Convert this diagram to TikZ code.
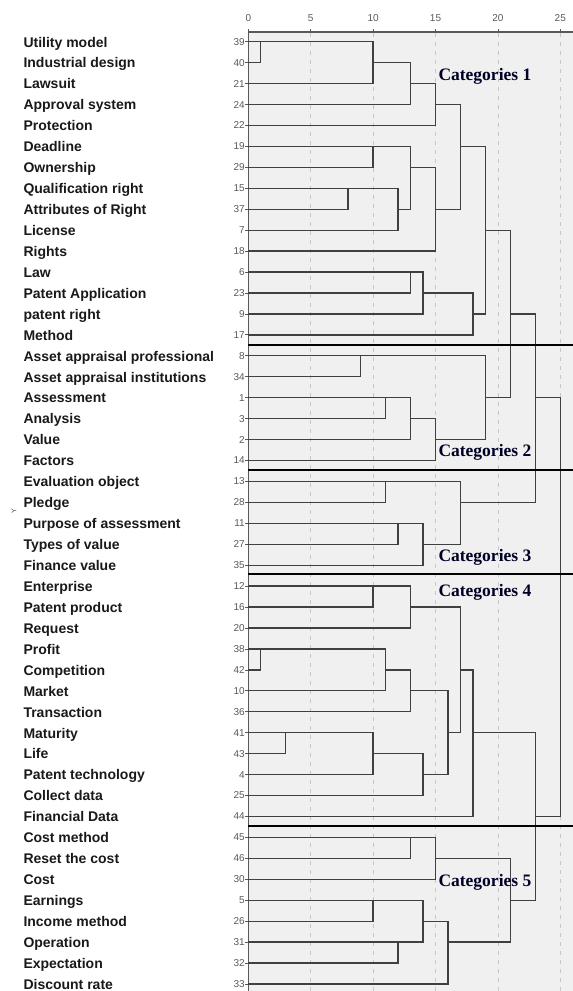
\documentclass[tikz,border=0pt]{standalone}
\usepackage{fontspec}
\setmainfont{Liberation Sans}
\newfontfamily\catfont{Liberation Serif}
\newcommand\mrg[5]{\draw[dline] ({248.3+12.48*#2},{41.7+20.94*#1}) -- ({248.3+12.48*#5},{41.7+20.94*#1}) -- ({248.3+12.48*#5},{41.7+20.94*#3}) -- ({248.3+12.48*#4},{41.7+20.94*#3});}
\begin{document}
\begin{tikzpicture}[x=1pt,y=-1pt,
  dline/.style={draw=black!75, line width=1.3pt, line join=miter},
  gridline/.style={draw=black!22, line width=0.8pt, dash pattern=on 4pt off 5pt},
  sepline/.style={draw=black, line width=1.8pt},
  axisline/.style={draw=black!65, line width=1.4pt},
  lab/.style={anchor=base west, font=\fontsize{14}{15}\selectfont\bfseries, text=black!90, inner sep=0pt},
  num/.style={anchor=east, font=\fontsize{10}{11}\selectfont, text=black!65, inner sep=0pt},
  cat/.style={anchor=base west, font=\catfont\fontsize{17.5}{19}\selectfont\bfseries, text=black!85!blue, inner sep=0pt}]
\useasboundingbox (0,0) rectangle (573,991);
% plot area
\fill[black!6] (248.3,32) rectangle (573,991);
\foreach \v in {5,10,...,25}
  \draw[gridline] ({248.3+12.48*\v},33) -- ({248.3+12.48*\v},991);
% axes
\draw[axisline] (248.3,32) -- (573,32);
\draw[axisline] (248.3,32) -- (248.3,991);
\foreach \v in {0,5,...,25}{
  \draw[black!65, line width=0.8pt] ({248.3+12.48*\v},32) -- ({248.3+12.48*\v},28.5);
  \node[num, anchor=center] (ax\v) at ({248.3+12.48*\v},18) {\v};
}
% row labels
\foreach \t [count=\i from 0] in {Utility model, Industrial design, Lawsuit, Approval system, Protection, Deadline, Ownership, Qualification right, Attributes of Right, License, Rights, Law, Patent Application, patent right, Method, Asset appraisal professional, Asset appraisal institutions, Assessment, Analysis, Value, Factors, Evaluation object, Pledge, Purpose of assessment, Types of value, Finance value, Enterprise, Patent product, Request, Profit, Competition, Market, Transaction, Maturity, Life, Patent technology, Collect data, Financial Data, Cost method, Reset the cost, Cost, Earnings, Income method, Operation, Expectation, Discount rate}
  \node[lab] (lab\i) at (23.3,{47+20.94*\i}) {\t};
\foreach \n [count=\i from 0] in {39,40,21,24,22,19,29,15,37,7,18,6,23,9,17,8,34,1,3,2,14,13,28,11,27,35,12,16,20,38,42,10,36,41,43,4,25,44,45,46,30,5,26,31,32,33}{
  \node[num] (num\i) at (245,{41.7+20.94*\i}) {\n};
  \draw[black!65, line width=0.8pt] (245.3,{41.7+20.94*\i}) -- (248.3,{41.7+20.94*\i});
}
\node[font=\fontsize{7}{8}\selectfont, text=black!70, rotate=90, inner sep=0pt] (ylab) at (14,511) {Y};
% dendrogram
\mrg{0}{0}{1}{0}{1}
\mrg{0}{1}{2}{0}{10}
\mrg{1}{10}{3}{0}{13}
\mrg{2}{13}{4}{0}{15}
\mrg{5}{0}{6}{0}{10}
\mrg{7}{0}{8}{0}{8}
\mrg{7}{8}{9}{0}{12}
\mrg{5}{10}{8}{12}{13}
\mrg{6}{13}{10}{0}{15}
\mrg{3}{15}{8}{15}{17}
\mrg{11}{0}{12}{0}{13}
\mrg{11}{13}{13}{0}{14}
\mrg{12}{14}{14}{0}{18}
\mrg{5}{17}{13}{18}{19}
\mrg{15}{0}{16}{0}{9}
\mrg{17}{0}{18}{0}{11}
\mrg{17}{11}{19}{0}{13}
\mrg{18}{13}{20}{0}{15}
\mrg{15}{9}{19}{15}{19}
\mrg{9}{19}{17}{19}{21}
\mrg{21}{0}{22}{0}{11}
\mrg{23}{0}{24}{0}{12}
\mrg{23}{12}{25}{0}{14}
\mrg{21}{11}{24}{14}{17}
\mrg{13}{21}{22}{17}{23}
\mrg{26}{0}{27}{0}{10}
\mrg{26}{10}{28}{0}{13}
\mrg{29}{0}{30}{0}{1}
\mrg{29}{1}{31}{0}{11}
\mrg{30}{11}{32}{0}{13}
\mrg{33}{0}{34}{0}{3}
\mrg{33}{3}{35}{0}{10}
\mrg{34}{10}{36}{0}{14}
\mrg{31}{13}{35}{14}{16}
\mrg{27}{13}{33}{16}{17}
\mrg{30}{17}{37}{0}{18}
\mrg{38}{0}{39}{0}{13}
\mrg{38}{13}{40}{0}{15}
\mrg{41}{0}{42}{0}{10}
\mrg{43}{0}{44}{0}{12}
\mrg{41}{10}{43}{12}{14}
\mrg{42}{14}{45}{0}{16}
\mrg{39}{15}{43}{16}{21}
\mrg{33}{18}{41}{21}{23}
\mrg{17}{23}{37}{23}{25}
% category separators
\draw[sepline] (248.3,345) -- (573,345);
\draw[sepline] (248.3,470) -- (573,470);
\draw[sepline] (248.3,574.3) -- (573,574.3);
\draw[sepline] (248.3,826) -- (573,826);
% category labels
\node[cat] (cat1) at (438.3,80) {Categories 1};
\node[cat] (cat2) at (438.3,456) {Categories 2};
\node[cat] (cat3) at (438.3,561.7) {Categories 3};
\node[cat] (cat4) at (438.3,596) {Categories 4};
\node[cat] (cat5) at (438.3,886.7) {Categories 5};
\end{tikzpicture}
\end{document}
